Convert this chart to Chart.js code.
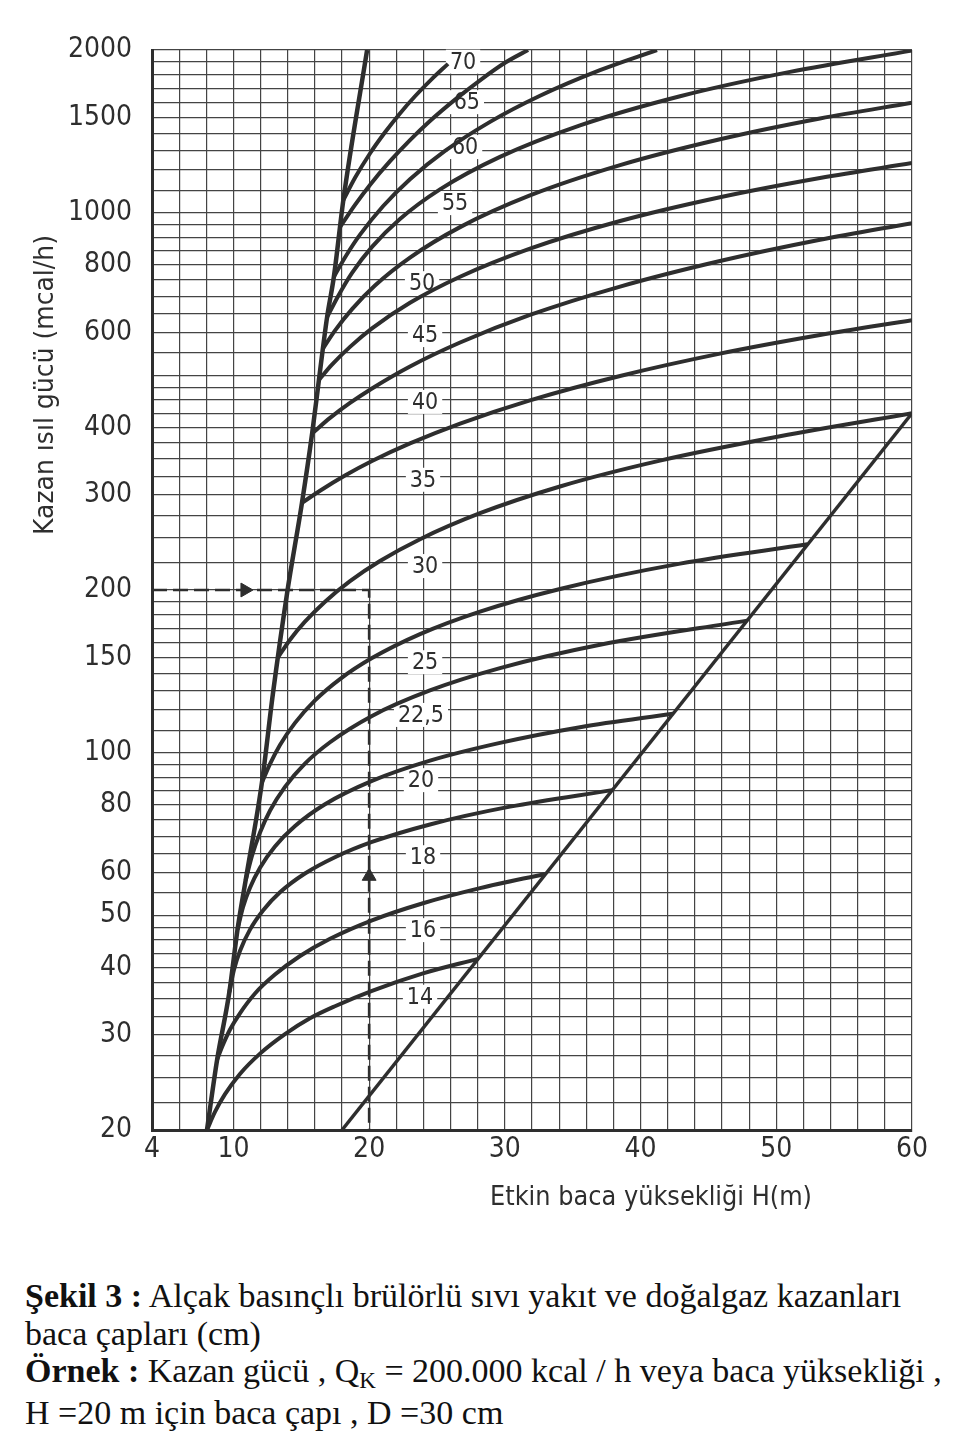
<!DOCTYPE html>
<html><head><meta charset="utf-8">
<script src="https://cdn.jsdelivr.net/npm/chart.js@4.4.1/dist/chart.umd.min.js"></script>
<style>
html,body{margin:0;padding:0;background:#fff;}
#wrap{position:relative;width:960px;height:1432px;overflow:hidden;background:#fff;}
#c{position:absolute;left:0;top:0;}
#cap{position:absolute;left:25px;top:1277px;font-family:'Liberation Serif','Times New Roman',serif;font-size:34px;line-height:37.7px;color:#111;white-space:nowrap;}
#cap sub{font-size:23px;vertical-align:baseline;position:relative;top:6px;}
</style></head><body>
<div id="wrap">
<canvas id="c" width="960" height="1250"></canvas>
<div id="cap">
<div><b>Şekil 3 :</b> Alçak basınçlı brülörlü sıvı yakıt ve doğalgaz kazanları</div>
<div>baca çapları (cm)</div>
<div><b>Örnek :</b> Kazan gücü , Q<sub>K</sub> = 200.000 kcal / h veya baca yüksekliği ,</div>
<div>H =20 m için baca çapı , D =30 cm</div>
</div>
</div>
<script>
// ---- axes / grid ----
const xGrid = [4,6,8,10,12,14,16,18,20,22,24,26,28,30,32,34,36,38,40,42,44,46,48,50,52,54,56,58,60];
const xTickLabels = [4,10,20,30,40,50,60];
const yGrid = [20,22.5,25,27.5,30,32.5,35,37.5,40,42.5,45,47.5,50,55,60,65,70,75,80,85,90,95,100,110,120,130,140,150,160,170,180,190,200,225,250,275,300,325,350,375,400,425,450,475,500,550,600,650,700,750,800,850,900,950,1000,1100,1200,1300,1400,1500,1600,1700,1800,1900,2000];
const yTickLabels = [20,30,40,50,60,80,100,150,200,300,400,600,800,1000,1500,2000];
const xTitle = 'Etkin baca yüksekliği H(m)';
const yTitle = 'Kazan ısıl gücü (mcal/h)';

// ---- curve labels (baca çapı, cm) ----
const diameterLabels = ['14','16','18','20','22,5','25','30','35','40','45','50','55','60','65','70'];
const labelH = [23.75,23.97,23.97,23.82,23.82,24.12,24.12,23.97,24.12,24.12,23.9,26.33,27.07,27.2,26.92];
const labelQ = [35.3,46.9,64,88.9,117.4,147,221.5,320,446,593,740,1041,1322,1601,1903];

// ---- curves: H (m) and Q (Mcal/h) ----
const h14 = [8.05,8.64,9.38,10.48,11.96,13.8,15.64,17.48,20.21,23.97,28.02];
const q14 = [20,21.6,23.3,25.4,27.7,30.1,32.2,33.9,36.2,39,41.5];
const h16 = [8.8,9.16,9.75,10.48,11.59,13.06,14.91,17.12,20.21,23.97,28.17,32.96];
const q16 = [27,28.5,30.7,32.9,35.8,38.8,42,45.2,48.9,52.6,56.1,59.6];
const h18 = [9.7,10.04,10.48,11.22,12.18,13.43,15.27,17.48,20.21,24.48,30.38,37.9];
const q18 = [36,39.6,42.9,47,51,55.1,59.7,64,68.3,73.6,79.4,85.2];
const h20 = [10.3,10.71,11.22,11.96,13.06,14.54,16.75,20.21,24.48,29.64,35.54,42.39];
const q20 = [47,51.8,56.2,61.2,67,73.1,80.2,88.6,96.6,104.2,111.4,118];
const h225 = [10.9,11.37,11.96,12.7,13.8,15.27,17.12,20.21,24.48,29.64,37.01,47.85];
const q225 = [58,64.4,71.1,78.1,86.4,95.4,104.5,116.9,130.3,143.3,158.3,175.5];
const h25 = [12.1,12.7,13.43,14.54,16.01,17.85,20.21,23.75,28.17,34.06,42.91,52.3];
const q25 = [88,95.3,103.3,113.5,124.9,136.8,149.6,165.7,182.4,200.9,223.8,243];
const h30 = [13.28,14.17,15.27,16.75,18.59,20.8,23.75,28.17,34.06,41.43,50.27,60];
const q30 = [150,161.8,174.7,190.3,207.7,226.3,248.4,277.5,311,347.2,385.2,425];
const h35 = [15.05,16.38,18.22,20.21,23.01,26.7,31.85,38.49,45.85,53.22,60];
const q35 = [290,305.4,325.8,346.6,373.6,406.6,449,498.2,548,593.2,632];
const h40 = [15.8,17.12,18.59,20.21,23.01,26.7,31.85,38.49,45.85,53.22,60];
const q40 = [390,416.6,444,472.4,518.8,574.6,646.2,729.4,813.4,890.6,956];
const h45 = [16.3,17.26,18.59,20.21,23.01,26.7,31.85,38.49,45.85,53.22,60];
const q45 = [490,522.8,564,610.2,680.6,760.6,857.4,964.8,1067.8,1159.2,1235];
const h50 = [16.6,17.48,18.74,20.43,23.01,26.7,31.85,38.49,45.85,53.22,60];
const q50 = [560,604.6,662.6,732.8,825.4,939.8,1075.6,1224,1366.6,1493.4,1597];
const h55 = [16.9,17.71,18.74,20.21,22.27,25.22,29.64,35.54,42.91,51.01,60];
const q55 = [640,700,773.2,863.8,972.8,1103.8,1267.8,1450.2,1642,1821.6,1995];
const h60 = [17.4,18.22,19.33,21.02,23.01,25.59,28.91,32.59,37.01,41.21];
const q60 = [760,825.8,910,1027.2,1152.8,1300.2,1472,1645.4,1835.2,2000];
const h65 = [17.85,18.96,20.06,21.54,23.01,24.48,26.33,28.17,30.01,31.71];
const q65 = [940,1033.4,1125.2,1244.8,1361.8,1477.4,1618.4,1757.6,1893.8,2000];
const h70 = [18.1,18.96,20.06,21.17,22.27,23.38,24.63,25.81];
const q70 = [1055,1159.8,1286.4,1408,1526.2,1642,1768.2,1885];

// lower limit line (steep) and right limit line (diagonal)
const boundaryH = [8.05,8.8,9.7,10.3,10.9,12.1,12.9,13.95,15.05,15.8,16.3,16.9,17.4,18.1,19.85];
const boundaryQ = [20,27,36,47,58,88,128,197,290,390,490,640,760,1055,2000];
const limitH = [18,60];
const limitQ = [20,425];

// worked example (Q = 200, H = 20)
const exampleH = [4,20,20];
const exampleQ = [200,200,20];
const arrowH = [10.85,20];
const arrowQ = [200,59];
const arrowRotation = [90,0];

const curveH = [h14,h16,h18,h20,h225,h25,h30,h35,h40,h45,h50,h55,h60,h65,h70];
const curveQ = [q14,q16,q18,q20,q225,q25,q30,q35,q40,q45,q50,q55,q60,q65,q70];

const INK = '#2e2e2e';
const GRID = '#444444';
const TICKFONT = "'Liberation Sans Narrow','DejaVu Sans Condensed','Roboto','DejaVu Sans',sans-serif";
const pts = (H, Q) => H.map((h, i) => ({x: h, y: Q[i]}));

const datasets = [];
curveH.forEach((H, i) => {
  datasets.push({label: diameterLabels[i], data: pts(H, curveQ[i]), showLine: true, borderColor: INK,
    borderWidth: 4, pointRadius: 0, cubicInterpolationMode: 'monotone', fill: false});
});
datasets.push({label: 'sınır', data: pts(boundaryH, boundaryQ), showLine: true, borderColor: INK,
  borderWidth: 4.5, pointRadius: 0, cubicInterpolationMode: 'monotone'});
datasets.push({label: 'sınır 2', data: pts(limitH, limitQ), showLine: true, borderColor: INK,
  borderWidth: 3.5, pointRadius: 0});
datasets.push({label: 'örnek', data: pts(exampleH, exampleQ), showLine: true, borderColor: INK,
  borderWidth: 2.6, borderDash: [15, 6], pointRadius: 0, tension: 0});
datasets.push({label: 'ok', data: pts(arrowH, arrowQ), showLine: false, pointStyle: 'triangle',
  pointRotation: arrowRotation, pointRadius: 8, pointBackgroundColor: INK, pointBorderColor: INK, pointBorderWidth: 1});

const near = (arr, v) => arr.some(a => Math.abs(a - v) < 1e-6);
const LABELFONT = "23px " + TICKFONT;

const labelPlugin = {
  id: 'curveLabels',
  beforeDatasetsDraw(chart) {
    const {ctx, scales: {x, y}} = chart;
    ctx.save();
    ctx.font = LABELFONT;
    diameterLabels.forEach((t, i) => {
      const px = x.getPixelForValue(labelH[i]), py = y.getPixelForValue(labelQ[i]);
      const w = ctx.measureText(t).width + 8;
      ctx.fillStyle = '#fff';
      ctx.fillRect(px - w / 2, py - 12, w, 24);
    });
    ctx.restore();
  },
  afterDatasetsDraw(chart) {
    const {ctx, scales: {x, y}} = chart;
    ctx.save();
    ctx.font = LABELFONT;
    ctx.fillStyle = INK; ctx.textAlign = 'center'; ctx.textBaseline = 'middle';
    diameterLabels.forEach((t, i) => {
      ctx.fillText(t, x.getPixelForValue(labelH[i]), y.getPixelForValue(labelQ[i]) + 1);
    });
    ctx.restore();
  }
};

function fitText(ctx, text, cx, cy, targetW, font, rot) {
  ctx.save();
  ctx.font = font;
  const w = ctx.measureText(text).width;
  ctx.translate(cx, cy);
  if (rot) ctx.rotate(rot);
  ctx.scale(targetW / w, 1);
  ctx.textAlign = 'center'; ctx.textBaseline = 'middle'; ctx.fillStyle = INK;
  ctx.fillText(text, 0, 0);
  ctx.restore();
}

const titlePlugin = {
  id: 'axisTitles',
  afterDraw(chart) {
    const ctx = chart.ctx;
    fitText(ctx, xTitle, 651, 1198, 322, "26px 'DejaVu Sans',sans-serif", 0);
    fitText(ctx, yTitle, 46, 385, 300, "26px 'DejaVu Sans',sans-serif", -Math.PI / 2);
  }
};

new Chart(document.getElementById('c'), {
  type: 'scatter',
  data: {datasets},
  options: {
    responsive: false, animation: false,
    layout: {padding: {left: 0, right: 48, top: 50, bottom: 0}},
    plugins: {legend: {display: false}, tooltip: {enabled: false}},
    scales: {
      x: {
        type: 'linear', min: 4, max: 60,
        afterBuildTicks: s => { s.ticks = xGrid.map(v => ({value: v})); },
        afterFit: s => { s.height = 120; },
        ticks: {autoSkip: false, maxRotation: 0, minRotation: 0, padding: 3, color: INK,
          font: {family: TICKFONT, size: 28},
          callback: v => near(xTickLabels, v) ? String(v) : ''},
        grid: {color: GRID, lineWidth: 1.2, drawTicks: false},
        border: {display: true, width: 3, color: INK}
      },
      y: {
        type: 'logarithmic', min: 20, max: 2000,
        afterBuildTicks: s => { s.ticks = yGrid.map(v => ({value: v})); },
        afterFit: s => { s.width = 152; },
        ticks: {autoSkip: false, padding: 20, color: INK,
          font: {family: TICKFONT, size: 28},
          callback: v => near(yTickLabels, v) ? String(v) : ''},
        grid: {color: GRID, lineWidth: 1.2, drawTicks: false},
        border: {display: true, width: 3, color: INK}
      }
    }
  },
  plugins: [labelPlugin, titlePlugin]
});
</script>
</body></html>
